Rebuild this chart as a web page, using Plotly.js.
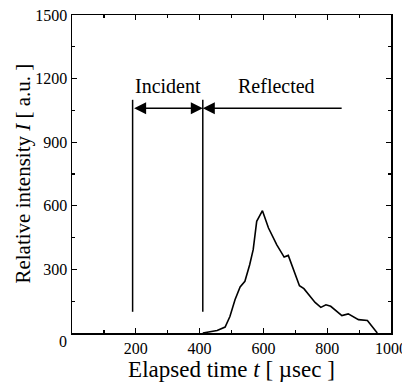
<!DOCTYPE html>
<html>
<head>
<meta charset="utf-8">
<script src="https://cdn.plot.ly/plotly-3.0.1.min.js"></script>
<style>html,body{margin:0;padding:0;background:#fff;}#chart{width:402px;height:385px;}</style>
</head>
<body>
<div id="chart"></div>
<script>
// Elapsed time (µsec) and relative intensity (a.u.)
const timeUs = [410, 455, 480, 495, 511, 527, 542, 557, 568, 579, 597, 616, 642, 665, 678, 713, 727, 762, 780, 796, 811, 846, 866, 882, 898, 926, 957];
const intensity = [0, 12, 28, 78, 157, 217, 244, 322, 393, 527, 577, 495, 416, 358, 366, 223, 209, 144, 121, 133, 126, 82, 90, 78, 63, 59, 0];

// Region markers
const markerTimes = [190, 410];       // vertical boundary lines
const markerLow = 100, markerHigh = 1100;
const arrowLevel = 1060;
const reflectedEnd = 850;
const regionLabels = ['Incident', 'Reflected'];
const regionLabelX = [300, 640];
const regionLabelY = 1165;

const xTickVals = [0, 200, 400, 600, 800, 1000];
const xTickText = ['', '200', '400', '600', '800', '1000'];
const yTickVals = [0, 300, 600, 900, 1200, 1500];
const yTickText = ['', '300', '600', '900', '1200', '1500'];
const xMinor = [100, 300, 500, 700, 900];
const yMinor = [150, 450, 750, 1050, 1350];

const xTitle = 'Elapsed time <i>t</i> [ µsec ]';
const yTitle = 'Relative intensity <i>I</i> [ a.u. ]';

const serif = 'Times New Roman, Liberation Serif, DejaVu Serif, serif';

const traces = [{
  x: timeUs, y: intensity, type: 'scatter', mode: 'lines',
  line: {color: '#000', width: 1.6}, hoverinfo: 'skip'
}];
markerTimes.forEach(t => {
  traces.push({x: [t, t], y: [markerLow, markerHigh], type: 'scatter', mode: 'lines',
    line: {color: '#000', width: 1.5}, hoverinfo: 'skip'});
});
// empty trace to activate mirrored tick axes (top/right)
traces.push({x: [], y: [], xaxis: 'x2', yaxis: 'y2', type: 'scatter', mode: 'lines', hoverinfo: 'skip'});

const annotations = [
  {x: markerTimes[1], y: arrowLevel, ax: markerTimes[0], ay: arrowLevel, xref: 'x', yref: 'y', axref: 'x', ayref: 'y',
   text: '', showarrow: true, arrowhead: 2, startarrowhead: 2, arrowside: 'end+start', arrowsize: 1.5, startarrowsize: 1.5, arrowwidth: 1.6, arrowcolor: '#000', standoff: 0, startstandoff: 0},
  {x: markerTimes[1], y: arrowLevel, ax: reflectedEnd, ay: arrowLevel, xref: 'x', yref: 'y', axref: 'x', ayref: 'y',
   text: '', showarrow: true, arrowhead: 2, arrowside: 'end', arrowsize: 1.5, arrowwidth: 1.6, arrowcolor: '#000', standoff: 0},
  {x: -0.028, y: -0.028, xref: 'paper', yref: 'paper', text: '0', showarrow: false,
   xanchor: 'center', yanchor: 'middle', font: {family: serif, size: 16, color: '#000'}},
  {x: -0.155, y: 0.5, xref: 'paper', yref: 'paper', text: yTitle, textangle: -90, showarrow: false,
   xanchor: 'center', yanchor: 'middle', font: {family: serif, size: 21, color: '#000'}}
];
regionLabels.forEach((lab, i) => {
  annotations.push({x: regionLabelX[i], y: regionLabelY, xref: 'x', yref: 'y', text: lab, showarrow: false,
    xanchor: 'center', yanchor: 'middle', font: {family: serif, size: 20, color: '#000'}});
});

const axisCommon = {
  showgrid: false, zeroline: false, showline: true, linecolor: '#000', linewidth: 1.5,
  mirror: true, ticks: 'inside', ticklen: 5, tickwidth: 1.2, tickcolor: '#000',
  tickfont: {family: serif, size: 16, color: '#000'}, tickmode: 'array', fixedrange: true,
  ticklabeloverflow: 'allow', automargin: false
};

const xMinorCfg = {tickmode: 'array', tickvals: xMinor, ticks: 'inside', ticklen: 3, tickwidth: 1.2, tickcolor: '#000'};
const yMinorCfg = {tickmode: 'array', tickvals: yMinor, ticks: 'inside', ticklen: 3, tickwidth: 1.2, tickcolor: '#000'};

const layout = {
  width: 402, height: 385,
  margin: {l: 72, r: 11, t: 15, b: 52},
  paper_bgcolor: '#fff', plot_bgcolor: '#fff',
  showlegend: false,
  font: {family: serif, color: '#000'},
  xaxis: Object.assign({}, axisCommon, {
    range: [0, 1000], tickvals: xTickVals, ticktext: xTickText, minor: xMinorCfg,
    title: {text: xTitle, font: {family: serif, size: 23, color: '#000'}, standoff: 2}
  }),
  yaxis: Object.assign({}, axisCommon, {
    range: [0, 1500], tickvals: yTickVals, ticktext: yTickText, minor: yMinorCfg
  }),
  xaxis2: {overlaying: 'x', side: 'top', anchor: 'y', range: [0, 1000], showgrid: false, zeroline: false, showline: false,
    ticks: 'inside', ticklen: 5, tickwidth: 1.2, tickcolor: '#000', showticklabels: false, tickmode: 'array', tickvals: xTickVals,
    minor: xMinorCfg, fixedrange: true},
  yaxis2: {overlaying: 'y', side: 'right', anchor: 'x', range: [0, 1500], showgrid: false, zeroline: false, showline: false,
    ticks: 'inside', ticklen: 5, tickwidth: 1.2, tickcolor: '#000', showticklabels: false, tickmode: 'array', tickvals: yTickVals,
    minor: yMinorCfg, fixedrange: true},
  annotations: annotations
};

Plotly.newPlot('chart', traces, layout, {staticPlot: true, displayModeBar: false});
</script>
</body>
</html>
